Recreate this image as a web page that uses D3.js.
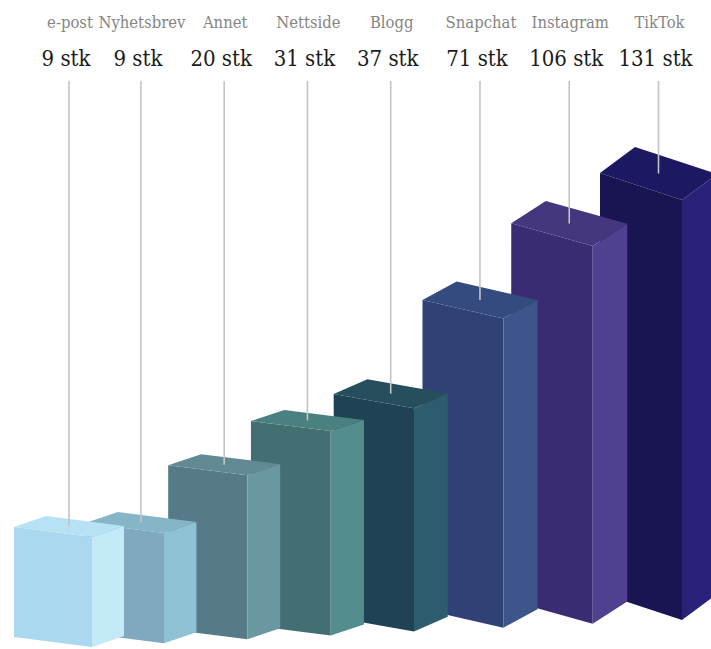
<!DOCTYPE html>
<html>
<head>
<meta charset="utf-8">
<script src="https://cdn.jsdelivr.net/npm/d3@7"></script>
<style>
  html, body { margin: 0; padding: 0; background: #fff; }
  svg { display: block; }
</style>
</head>
<body>
<svg id="chart" width="711" height="649"></svg>
<script>
// ---- data ----
const categories = ["e-post", "Nyhetsbrev", "Annet", "Nettside", "Blogg", "Snapchat", "Instagram", "TikTok"];
const values = [9, 9, 20, 31, 37, 71, 106, 131];
const unit = "stk";
const frontColors = ["#a9d8ef", "#80a9c0", "#567a87", "#436e72", "#1f4354", "#304175", "#3b2b72", "#191553"];
const sideColors  = ["#c4eaf8", "#8fc1d5", "#6a98a2", "#538d8e", "#2d5d6c", "#3c558b", "#4f4090", "#292278"];
const topColors   = ["#b6e2f4", "#86b5c8", "#628a95", "#4a8080", "#264e5c", "#334b7e", "#45367e", "#1c1862"];

// ---- scales ----
const n = categories.length;
const xScale = d3.scaleLinear().domain([0, 1, 4, n - 1]).range([92, 164, 414, 682]);   // front-right base edge
const baseY  = d3.scaleLinear().domain([0, n - 1]).range([647, 620]);
const hScale = d3.scaleSqrt().domain([0, d3.max(values)]).range([0, 420]);
const widthS = d3.scaleLinear().domain([0, n - 1]).range([78, 82]);
const depthX = d3.scaleLinear().domain([0, n - 1]).range([32, 35]);
const depthY = d3.scaleLinear().domain([0, 3, n - 1]).range([-11, -11, -26]);
const slope  = d3.scaleLinear().domain([0, 3, n - 1]).range([10, 10, 27]);

const bars = categories.map((c, i) => {
  const x = xScale(i), y = baseY(i), h = hScale(values[i]);
  const W = widthS(i), dx = depthX(i), dy = depthY(i), s = slope(i);
  const FRb = [x, y], FRt = [x, y - h];
  const FLt = [x - W, y - h - s], FLb = [x - W, y - s];
  const BRt = [x + dx, y - h + dy], BRb = [x + dx, y + dy];
  const BLt = [x - W + dx, y - h - s + dy];
  const topC = [(FLt[0] + FRt[0] + BRt[0] + BLt[0]) / 4, (FLt[1] + FRt[1] + BRt[1] + BLt[1]) / 4];
  return { i, c, v: values[i], front: [FLt, FRt, FRb, FLb], side: [FRt, BRt, BRb, FRb], top: [FLt, BLt, BRt, FRt], topC };
});

const svg = d3.select("#chart");
const line = d3.line();
const poly = pts => line(pts) + "Z";

// draw right-most first so left bars sit in front
const g = svg.append("g");
const barG = g.selectAll("g.bar").data(bars.slice().reverse()).join("g").attr("class", "bar");
barG.append("path").attr("d", d => poly(d.front)).attr("fill", d => frontColors[d.i]);
barG.append("path").attr("d", d => poly(d.side)).attr("fill", d => sideColors[d.i]);
barG.append("path").attr("d", d => poly(d.top)).attr("fill", d => topColors[d.i]);

// leader lines
svg.selectAll("line.lead").data(bars).join("line")
  .attr("class", "lead")
  .attr("x1", d => d.topC[0]).attr("x2", d => d.topC[0])
  .attr("y1", 81).attr("y2", d => d.topC[1])
  .attr("stroke", "#c4c4c4").attr("stroke-width", 1.6);

const font = "'DejaVu Serif Condensed', 'DejaVu Serif', serif";
svg.selectAll("text.cat").data(bars).join("text")
  .attr("class", "cat")
  .attr("x", d => d.topC[0] + 1).attr("y", 28)
  .attr("text-anchor", "middle")
  .style("font-family", font).style("font-size", "16.5px").style("font-stretch", "condensed")
  .attr("fill", "#858585")
  .text(d => d.c);

svg.selectAll("text.val").data(bars).join("text")
  .attr("class", "val")
  .attr("x", d => d.topC[0] - 3).attr("y", 66)
  .attr("text-anchor", "middle")
  .style("font-family", font).style("font-size", "22px").style("font-stretch", "condensed")
  .attr("fill", "#1b1b1b")
  .text(d => d.v + " " + unit);
</script>
</body>
</html>
